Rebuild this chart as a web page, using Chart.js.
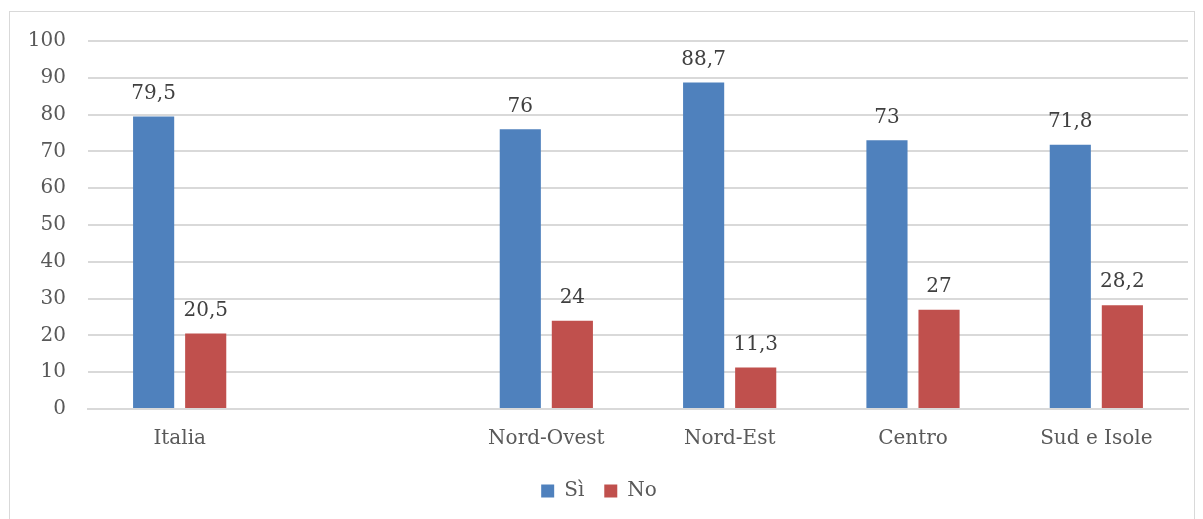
<!DOCTYPE html>
<html>
<head>
<meta charset="utf-8">
<script src="https://cdn.jsdelivr.net/npm/chart.js@4/dist/chart.umd.min.js"></script>
<style>
  html, body { margin: 0; padding: 0; background: #fff; }
  #wrap {
    position: absolute; left: 9px; top: 11px;
    width: 1184px; height: 515px;
    border: 1px solid #d9d9d9;
  }
</style>
</head>
<body>
<div id="wrap"><canvas id="chart"></canvas></div>
<script>
const categories = ['Italia', '', 'Nord-Ovest', 'Nord-Est', 'Centro', 'Sud e Isole'];
const valuesSi = [79.5, null, 76, 88.7, 73, 71.8];
const valuesNo = [20.5, null, 24, 11.3, 27, 28.2];
const yTicks = [0, 10, 20, 30, 40, 50, 60, 70, 80, 90, 100];

const FONT = "'DejaVu Serif', serif";

// draws the numbers above the bars, with a comma as decimal mark
const valueLabels = {
    id: 'valueLabels',
    afterDatasetsDraw(chart) {
        const ctx = chart.ctx;
        ctx.save();
        ctx.font = '20px ' + FONT;
        ctx.fillStyle = '#404040';
        ctx.textAlign = 'center';
        ctx.textBaseline = 'bottom';
        chart.data.datasets.forEach(function (ds, i) {
            chart.getDatasetMeta(i).data.forEach(function (bar, j) {
                const v = ds.data[j];
                if (v === null) return;
                ctx.fillText(String(v).replace('.', ','), bar.x, bar.y - 13);
            });
        });
        ctx.restore();
    }
};

new Chart(document.getElementById('chart').getContext('2d'), {
    type: 'bar',
    data: {
        labels: categories,
        datasets: [
            {
                label: 'Sì',
                data: valuesSi,
                backgroundColor: '#4f81bd',
                categoryPercentage: 0.568,
                barPercentage: 0.79
            },
            {
                label: 'No',
                data: valuesNo,
                backgroundColor: '#c0504d',
                categoryPercentage: 0.568,
                barPercentage: 0.79
            }
        ]
    },
    options: {
        responsive: true,
        maintainAspectRatio: false,
        animation: false,
        layout: {
            padding: { top: 29, right: 6, bottom: 16, left: 0 }
        },
        scales: {
            x: {
                grid: { display: false },
                border: { color: '#d9d9d9', width: 2 },
                ticks: {
                    color: '#595959',
                    font: { family: FONT, size: 20 },
                    padding: 10
                }
            },
            y: {
                min: 0,
                max: 100,
                afterFit: function (axis) {
                    axis.width = 78;
                    axis.paddingTop = 0;
                    axis.paddingBottom = 0;
                },
                afterBuildTicks: function (axis) {
                    axis.ticks = yTicks.map(function (v) { return { value: v }; });
                },
                grid: { color: '#d9d9d9', lineWidth: 2, drawTicks: false },
                border: { display: false },
                ticks: {
                    color: '#595959',
                    font: { family: FONT, size: 20 },
                    padding: 22
                }
            }
        },
        plugins: {
            legend: {
                position: 'bottom',
                labels: {
                    color: '#595959',
                    font: { family: FONT, size: 20 },
                    boxWidth: 13,
                    boxHeight: 13,
                    padding: 20
                }
            },
            tooltip: { enabled: false }
        }
    },
    plugins: [valueLabels]
});
</script>
</body>
</html>
